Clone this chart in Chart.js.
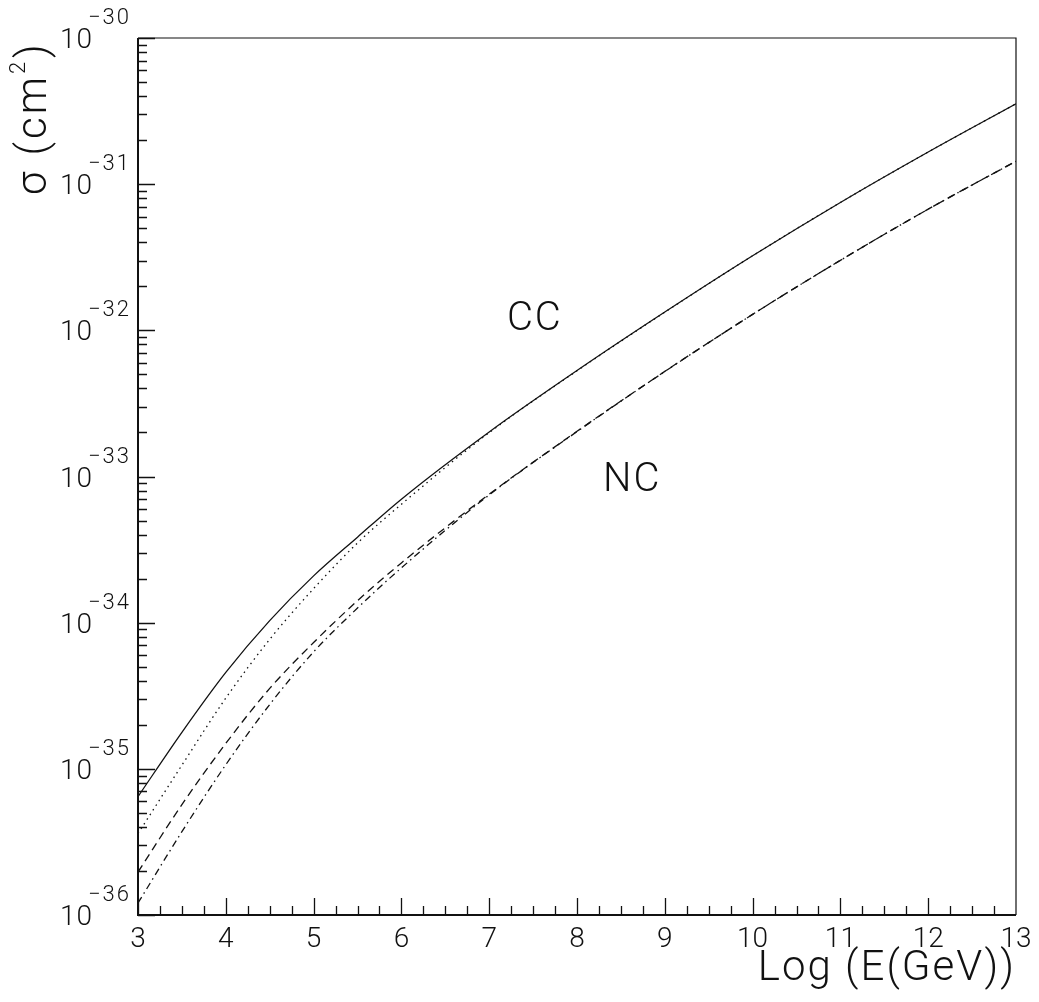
<!DOCTYPE html>
<html>
<head>
<meta charset="utf-8">
<script src="https://cdn.jsdelivr.net/npm/chart.js@4.4.1/dist/chart.umd.min.js"></script>
<style>
  html, body { margin: 0; padding: 0; background: #fff; }
  #wrap { width: 1039px; height: 1002px; }
</style>
</head>
<body>
<div id="wrap"><canvas id="xsec" width="1039" height="1002"></canvas></div>
<script>
// x: log10 of neutrino energy in GeV
const logE = [3, 3.5, 4, 4.5, 5, 5.5, 6, 7, 8, 9, 10, 11, 12, 13];

// log10 of the cross section (cm^2)
const nuCC    = [-35.19, -34.75, -34.34, -33.986, -33.68, -33.415, -33.155, -32.695, -32.275, -31.875, -31.49, -31.125, -30.78, -30.45];
const nubarCC = [-35.443, -34.975, -34.516, -34.114, -33.767, -33.455, -33.19, -32.70, -32.277, -31.876, -31.49, -31.125, -30.78, -30.45];
const nuNC    = [-35.706, -35.245, -34.826, -34.45, -34.136, -33.85, -33.591, -33.121, -32.691, -32.281, -31.891, -31.521, -31.171, -30.843];
const nubarNC = [-35.918, -35.43, -34.972, -34.56, -34.2, -33.9, -33.625, -33.126, -32.693, -32.282, -31.891, -31.521, -31.171, -30.843];

// axis ticks
const xTicks = [3, 4, 5, 6, 7, 8, 9, 10, 11, 12, 13];
const yDecades = [-36, -35, -34, -33, -32, -31, -30];

// curve labels: [text, logE, sigma at text baseline]
const curveLabels = [
  ['CC', 7.52, 1e-32],
  ['NC', 8.63, 8e-34]
];

const FONT = 'Roboto, "Liberation Sans", sans-serif';
const INK = '#111';

const toPoints = arr => logE.map((e, i) => ({ x: e, y: Math.pow(10, arr[i]) }));

// frame, inward ticks, 10^n labels, titles
const paw = {
  id: 'paw',
  afterDraw(chart) {
    const { ctx, chartArea: a, scales: { x, y } } = chart;
    ctx.save();
    ctx.strokeStyle = INK;
    ctx.fillStyle = INK;

    // box
    ctx.lineWidth = 1.2;
    ctx.beginPath();
    ctx.moveTo(a.left, a.top); ctx.lineTo(a.right, a.top); ctx.lineTo(a.right, a.bottom);
    ctx.stroke();
    ctx.lineWidth = 2;
    ctx.beginPath();
    ctx.moveTo(a.left, a.top); ctx.lineTo(a.left, a.bottom); ctx.lineTo(a.right, a.bottom);
    ctx.stroke();

    // bottom ticks, quarter steps
    ctx.lineWidth = 1.3;
    ctx.beginPath();
    for (let i = 0; i < xTicks.length - 1; i++) {
      for (let q = 0; q < 4; q++) {
        const px = Math.round(x.getPixelForValue(xTicks[i] + q * 0.25)) + 0.5;
        const len = q === 0 ? 17 : 9;
        ctx.moveTo(px, a.bottom); ctx.lineTo(px, a.bottom - len);
      }
    }
    ctx.stroke();

    // left ticks, decades + 2..9
    ctx.beginPath();
    yDecades.forEach(d => {
      const py = Math.round(y.getPixelForValue(Math.pow(10, d))) + 0.5;
      ctx.moveTo(a.left, py); ctx.lineTo(a.left + 17, py);
      if (d < -30) {
        for (let k = 2; k <= 9; k++) {
          const pm = Math.round(y.getPixelForValue(k * Math.pow(10, d))) + 0.5;
          ctx.moveTo(a.left, pm); ctx.lineTo(a.left + 9, pm);
        }
      }
    });
    ctx.stroke();

    // x tick labels
    ctx.font = '300 28px ' + FONT;
    ctx.textAlign = 'center';
    ctx.textBaseline = 'alphabetic';
    xTicks.forEach(v => ctx.fillText(String(v), x.getPixelForValue(v), a.bottom + 32));

    // y tick labels as 10^n
    yDecades.forEach(d => {
      const py = y.getPixelForValue(Math.pow(10, d));
      ctx.letterSpacing = '1px';
      ctx.font = '300 28px ' + FONT;
      ctx.textAlign = 'right';
      ctx.fillText('10', a.left - 45, py + 10);
      ctx.letterSpacing = '2px';
      ctx.font = '300 22px ' + FONT;
      ctx.textAlign = 'left';
      ctx.fillText('\u2212' + String(-d), a.left - 50, py - 14);
    });

    // axis titles
    ctx.letterSpacing = '2px';
    ctx.font = '300 42px ' + FONT;
    ctx.textAlign = 'right';
    ctx.fillText('Log (E(GeV))', a.right, a.bottom + 65);

    ctx.save();
    ctx.translate(46, 195);
    ctx.rotate(-Math.PI / 2);
    ctx.textAlign = 'left';
    ctx.letterSpacing = '3px';
    ctx.font = '300 42px ' + FONT;
    const head = '\u03c3 (cm';
    ctx.fillText(head, 0, 0);
    let off = ctx.measureText(head).width;
    ctx.font = '300 22px ' + FONT;
    ctx.fillText('2', off, -21);
    off += ctx.measureText('2').width + 1;
    ctx.font = '300 42px ' + FONT;
    ctx.fillText(')', off, 0);
    ctx.restore();

    // CC / NC
    ctx.letterSpacing = '2px';
    ctx.font = '300 40px ' + FONT;
    ctx.textAlign = 'center';
    curveLabels.forEach(([t, e, s]) => ctx.fillText(t, x.getPixelForValue(e), y.getPixelForValue(s)));

    ctx.restore();
  }
};

new Chart(document.getElementById('xsec'), {
  type: 'line',
  data: {
    datasets: [
      { label: 'nu CC', data: toPoints(nuCC), borderDash: [] },
      { label: 'nu NC', data: toPoints(nuNC), borderDash: [8, 5] },
      { label: 'nubar CC', data: toPoints(nubarCC), borderDash: [1.5, 4] },
      { label: 'nubar NC', data: toPoints(nubarNC), borderDash: [7, 4, 1.5, 4] }
    ]
  },
  options: {
    responsive: false,
    animation: false,
    layout: { padding: { left: 138, top: 38, right: 23, bottom: 87 } },
    scales: {
      x: { type: 'linear', min: 3, max: 13, display: false },
      y: { type: 'logarithmic', min: 1e-36, max: 1e-30, display: false }
    },
    plugins: { legend: { display: false }, tooltip: { enabled: false } },
    elements: {
      point: { radius: 0 },
      line: { borderWidth: 1.3, borderColor: INK, fill: false, cubicInterpolationMode: 'monotone' }
    }
  },
  plugins: [paw]
});
</script>
</body>
</html>
